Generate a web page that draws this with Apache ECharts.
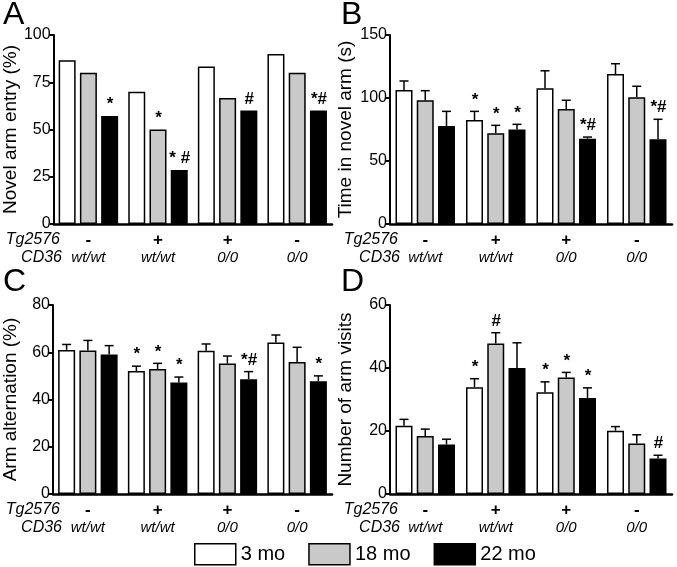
<!DOCTYPE html>
<html>
<head>
<meta charset="utf-8">
<script src="https://cdn.jsdelivr.net/npm/echarts@6/dist/echarts.min.js"></script>
<style>
html,body{margin:0;padding:0;background:#fff;}
#chart{width:677px;height:567px;}
</style>
</head>
<body>
<div id="chart"></div>
<script>
// ---- Data ----
const ageNames = ['3 mo', '18 mo', '22 mo'];
const tgLabels = ['-', '+', '+', '-'];
const cd36Labels = ['wt/wt', 'wt/wt', '0/0', '0/0'];
const categories = tgLabels.map((t, i) => t + '|' + cd36Labels[i]);

// Panel A: Novel arm entry (%)
const aWhite = [86.7, 70.0, 83.3, 90.0];
const aGray  = [80.0, 50.0, 66.7, 80.0];
const aBlack = [57.1, 28.6, 60.0, 60.0];
const aMarks = [['', '', '', ''], ['', '*', '', ''], ['*', '* #', '#', '*#']];

// Panel B: Time in novel arm (s)
const bWhite = [106.3, 82.5, 107.7, 119.0];
const bWhiteSem = [7.2, 6.9, 13.9, 8.2];
const bGray  = [98.2, 72.0, 91.3, 100.5];
const bGraySem = [7.6, 6.3, 6.9, 8.8];
const bBlack = [77.8, 75.0, 67.7, 67.3];
const bBlackSem = [11.6, 4.1, 1.3, 15.8];
const bMarks = [['', '*', '', ''], ['', '*', '', ''], ['', '*', '*#', '*#']];

// Panel C: Arm alternation (%)
const cWhite = [61.0, 52.1, 60.6, 64.1];
const cWhiteSem = [2.3, 2.0, 2.9, 3.2];
const cGray  = [60.7, 52.9, 55.2, 55.9];
const cGraySem = [4.3, 2.4, 3.2, 6.2];
const cBlack = [59.0, 47.2, 48.6, 47.7];
const cBlackSem = [3.8, 2.3, 3.2, 2.3];
const cMarks = [['', '*', '', ''], ['', '*', '', ''], ['', '*', '*#', '*']];

// Panel D: Number of arm visits
const dWhite = [21.7, 33.9, 32.3, 20.1];
const dWhiteSem = [2.0, 2.7, 3.3, 1.3];
const dGray  = [18.4, 47.8, 37.0, 16.0];
const dGraySem = [2.2, 3.4, 1.6, 2.8];
const dBlack = [15.7, 40.0, 30.5, 11.3];
const dBlackSem = [1.7, 8.0, 3.2, 1.0];
const dMarks = [['', '*', '*', ''], ['', '#', '*', ''], ['', '', '*', '#']];

// y axis settings
const yMins = [0, 0, 0, 0];
const yMaxs = [100, 150, 80, 60];
const yIntervals = [25, 50, 20, 20];
const yNames = ['Novel arm entry (%)', 'Time in novel arm (s)', 'Arm alternation (%)', 'Number of arm visits'];
const panelLetters = ['A', 'B', 'C', 'D'];

// ---- Build ----
const FONT = 'Liberation Sans, Arial, Helvetica, sans-serif';
const fills = ['#ffffff', '#c9c9c9', '#000000'];
const panels = [
  {vals: [aWhite, aGray, aBlack], sems: null, marks: aMarks},
  {vals: [bWhite, bGray, bBlack], sems: [bWhiteSem, bGraySem, bBlackSem], marks: bMarks},
  {vals: [cWhite, cGray, cBlack], sems: [cWhiteSem, cGraySem, cBlackSem], marks: cMarks},
  {vals: [dWhite, dGray, dBlack], sems: [dWhiteSem, dGraySem, dBlackSem], marks: dMarks}
];
const grids = [
  {left: 49, top: 35, width: 283, height: 189},
  {left: 390, top: 35, width: 282, height: 189},
  {left: 50, top: 305, width: 282, height: 189},
  {left: 390, top: 305, width: 282, height: 189}
];
const BAR_W = 17, BAR_SPACING = 21.25;

const xAxes = [], yAxes = [], series = [];
panels.forEach((p, pi) => {
  xAxes.push({
    type: 'category', gridIndex: pi, data: categories,
    axisLine: {show: true, lineStyle: {color: '#000', width: 2.5}},
    axisTick: {show: false},
    axisLabel: {
      margin: 7,
      formatter: v => {
        const parts = v.split('|');
        return '{t|' + parts[0] + '}\n{c|' + parts[1] + '}';
      },
      rich: {
        t: {fontFamily: FONT, fontSize: 17, fontWeight: 'bold', color: '#000', lineHeight: 18},
        c: {fontFamily: FONT, fontSize: 15, fontStyle: 'italic', color: '#000', lineHeight: 18}
      }
    },
    splitLine: {show: false}
  });
  yAxes.push({
    type: 'value', gridIndex: pi, min: yMins[pi], max: yMaxs[pi], interval: yIntervals[pi],
    name: yNames[pi], nameLocation: 'middle', nameGap: pi % 2 === 0 ? 33 : 35,
    nameTextStyle: {fontFamily: FONT, fontSize: 19, color: '#000'},
    axisLine: {show: true, lineStyle: {color: '#000', width: 2}},
    axisTick: {show: true, length: 4, lineStyle: {color: '#000', width: 2}},
    axisLabel: {fontFamily: FONT, fontSize: 16, color: '#000', margin: 3},
    splitLine: {show: false}
  });
  for (let k = 0; k < 3; k++) {
    series.push({
      type: 'bar', name: ageNames[k], xAxisIndex: pi, yAxisIndex: pi,
      data: p.vals[k], barWidth: BAR_W, barGap: '25%',
      itemStyle: {color: fills[k], borderColor: '#000', borderWidth: 1.5},
      emphasis: {disabled: true}, animation: false, z: 2
    });
  }
  for (let k = 0; k < 3; k++) {
    const vals = p.vals[k];
    const sems = p.sems ? p.sems[k] : null;
    const marks = p.marks[k];
    series.push({
      type: 'custom', xAxisIndex: pi, yAxisIndex: pi, z: 5, animation: false, silent: true,
      data: vals.map((v, i) => [i, v, sems ? sems[i] : 0]),
      encode: {x: 0, y: 1},
      renderItem: (params, api) => {
        const i = api.value(0), v = api.value(1), s = api.value(2);
        const base = api.coord([i, v]);
        const top = api.coord([i, v + s]);
        const x = base[0] + (k - 1) * BAR_SPACING;
        const children = [];
        if (s > 0) {
          children.push({type: 'line', shape: {x1: x, y1: base[1], x2: x, y2: top[1]}, style: {stroke: '#000', lineWidth: 1.5}});
          children.push({type: 'line', shape: {x1: x - 4.5, y1: top[1], x2: x + 4.5, y2: top[1]}, style: {stroke: '#000', lineWidth: 1.5}});
        }
        const m = marks[params.dataIndex];
        if (m) {
          children.push({type: 'text', style: {text: m, x: x + 0.5, y: top[1] - 3, textAlign: 'center', textVerticalAlign: 'bottom',
            fontFamily: FONT, fontSize: 17, fontWeight: 'bold', fill: '#000'}});
        }
        return {type: 'group', children: children};
      }
    });
  }
});

const graphic = [];
const letterPos = [[3, 15], [341, 15], [3, 282], [341, 282]];
panelLetters.forEach((L, i) => {
  graphic.push({type: 'text', left: letterPos[i][0], top: letterPos[i][1] - 16,
    style: {text: L, fontFamily: FONT, fontSize: 32, fill: '#000'}});
});
const rowRight = [61, 399, 61, 399];
const rowBase = [224, 224, 494, 494];
for (let i = 0; i < 4; i++) {
  graphic.push({type: 'text', x: rowRight[i] - 1, y: rowBase[i] + 16,
    style: {text: 'Tg2576', fontFamily: FONT, fontSize: 16, fontStyle: 'italic', fill: '#000', textAlign: 'right', textVerticalAlign: 'middle'}});
  graphic.push({type: 'text', x: rowRight[i] + 1, y: rowBase[i] + 34,
    style: {text: 'CD36', fontFamily: FONT, fontSize: 16, fontStyle: 'italic', fill: '#000', textAlign: 'right', textVerticalAlign: 'middle'}});
}

const chart = echarts.init(document.getElementById('chart'), null, {renderer: 'canvas'});
chart.setOption({
  animation: false,
  backgroundColor: '#fff',
  grid: grids,
  xAxis: xAxes,
  yAxis: yAxes,
  series: series,
  graphic: graphic,
  legend: {
    data: ageNames, left: 194, top: 543, padding: 0, itemWidth: 41, itemHeight: 21, itemGap: 23,
    icon: 'rect', selectedMode: false,
    itemStyle: {borderColor: '#000', borderWidth: 1.5},
    textStyle: {fontFamily: FONT, fontSize: 20, color: '#000'}
  }
});
</script>
</body>
</html>
